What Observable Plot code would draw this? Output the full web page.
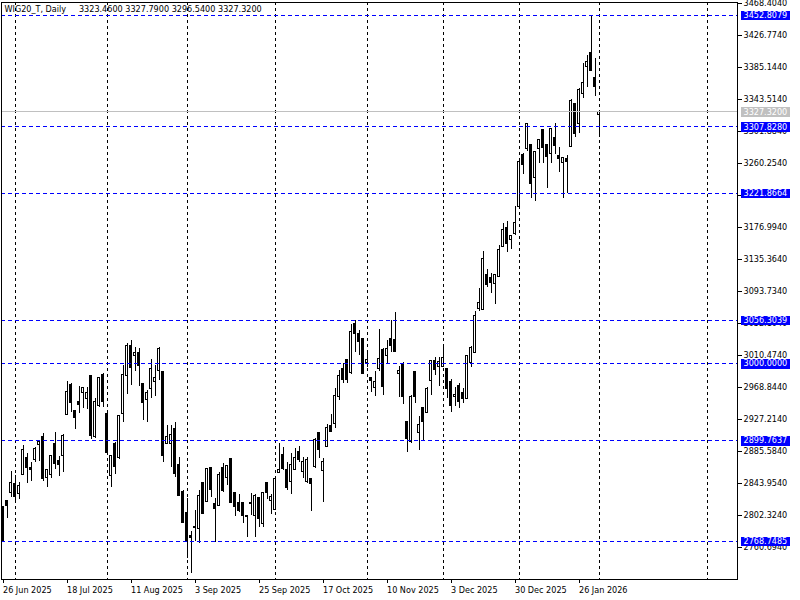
<!DOCTYPE html>
<html><head><meta charset="utf-8">
<script src="https://cdn.jsdelivr.net/npm/d3@7"></script>
<script src="https://cdn.jsdelivr.net/npm/@observablehq/plot@0.6"></script>
<style>body{margin:0;background:#fff}</style>
</head><body><div id="chart"></div>
<script>
const symbol = "WIG20_T, Daily";
const lastOHLC = [3323.46, 3327.79, 3296.54, 3327.32];

const opens = [2813.2,2821.8,2831.4,2843.5,2830.5,2855.2,2876.9,2863.9,2874.7,2894.3,
2905.1,2850.9,2855.2,2894.7,2872.6,2879.9,2933.3,2972.3,2938.1,2950.6,
2961.9,2953.7,2983.2,2904.2,2945.0,2984.5,2934.6,2853.5,2895.6,2876.9,
2934.6,2983.6,3023.1,3009.6,3013.9,2973.6,2952.8,2966.7,2975.8,2990.5,
2988.8,2895.6,2895.6,2915.1,2867.4,2833.5,2805.4,2776.3,2785.8,2784.5,
2844.4,2820.5,2864.3,2817.5,2814.4,2864.3,2851.3,2876.0,2831.8,2818.8,
2818.8,2801.9,2818.8,2801.4,2825.3,2791.5,2844.8,2821.8,2809.7,2857.8,
2880.4,2860.9,2846.5,2861.7,2884.7,2858.7,2846.5,2850.0,2865.2,2909.8,
2860.0,2891.2,2919.4,2921.5,2956.2,2993.1,3004.8,2987.5,3051.6,3037.8,
3032.1,3000.5,2981.4,2968.4,2993.1,3017.0,3010.4,3032.1,3030.0,2986.6,
2999.6,2923.7,2897.7,2988.8,2909.4,2941.9,2935.4,2977.9,3003.9,2995.3,
2996.1,2993.1,2976.6,2956.2,2971.4,2961.9,2954.1,3000.9,3013.9,3071.2,
3069.9,3115.8,3111.5,3103.7,3112.4,3151.4,3176.5,3160.9,3168.7,3203.4,
3270.7,3279.3,3284.5,3241.6,3279.3,3303.2,3284.5,3272.8,3293.2,3269.4,
3260.7,3266.3,3281.5,3337.9,3311.8,3350.9,3385.6,3404.2,3371.7,3323.46];
const highs = [2814.0,2821.8,2860.0,2854.4,2845.7,2893.4,2883.4,2870.8,2891.2,2899.9,
2909.4,2861.7,2880.8,2909.9,2879.1,2907.3,2976.7,2973.6,2938.9,2970.1,
2969.3,2969.3,2984.5,2954.1,2982.3,2987.5,2938.1,2880.4,2897.7,2932.4,
2997.5,3025.7,3029.6,3020.5,3019.1,2974.5,2964.9,3004.8,2997.5,3020.5,
2989.7,2919.4,2919.4,2922.9,2877.3,2834.8,2824.0,2781.5,2808.8,2834.8,
2845.7,2863.0,2865.2,2824.0,2858.7,2869.5,2866.5,2876.5,2832.3,2829.6,
2819.7,2802.3,2830.5,2829.6,2825.8,2832.5,2845.2,2829.6,2850.5,2896.4,
2891.2,2871.7,2882.5,2889.0,2892.1,2878.2,2878.2,2850.5,2902.0,2910.7,
2876.0,2920.7,2933.3,2967.1,2990.9,2999.6,3005.3,3050.8,3056.3039,3043.0,
3032.6,3012.6,2982.3,2989.6,3043.8,3019.1,3030.0,3056.0,3066.0,2996.1,
3001.8,2925.0,2957.8,2989.3,2931.1,2943.2,2968.4,3003.9,3007.4,3008.3,
3023.5,2993.6,2978.8,2968.4,2973.6,2967.9,3010.4,3022.6,3067.7,3097.2,
3146.2,3121.9,3116.7,3115.8,3153.6,3181.8,3185.2,3166.6,3204.3,3262.8,
3272.8,3312.5,3285.0,3275.9,3291.8,3304.0,3285.0,3306.2,3311.8,3281.5,
3268.5,3270.7,3343.0,3338.4,3357.4,3389.9,3400.7,3452.8079,3397.3,3327.79];
const lows = [2767.2,2798.9,2826.2,2818.8,2822.7,2854.4,2844.4,2847.0,2871.7,2873.0,
2847.0,2838.3,2850.0,2861.7,2853.5,2858.7,2932.4,2936.8,2914.6,2934.6,
2942.0,2939.8,2900.8,2902.9,2942.4,2942.4,2882.5,2839.2,2855.7,2874.7,
2923.7,2959.3,2971.4,2990.1,2970.6,2925.9,2922.9,2954.1,2957.1,2978.0,
2871.7,2894.7,2865.2,2852.2,2826.5,2791.5,2746.8,2726.4,2768.5,2766.3,
2803.2,2819.7,2826.2,2766.7,2813.6,2832.7,2841.3,2818.4,2801.4,2806.6,
2792.3,2774.1,2802.3,2774.1,2787.1,2786.3,2823.1,2803.2,2808.8,2856.5,
2860.9,2834.8,2829.6,2860.9,2871.7,2850.0,2844.4,2807.9,2863.0,2876.0,
2818.8,2890.8,2909.8,2915.9,2951.9,2973.6,2973.6,2985.7,3014.8,3010.4,
2986.2,2995.3,2962.7,2957.5,2990.1,2958.4,2999.6,3014.8,3013.9,2956.2,
2946.7,2884.7,2896.4,2948.4,2886.9,2899.9,2934.6,2958.4,2984.4,2970.1,
2995.3,2954.1,2935.9,2944.1,2941.1,2947.6,2953.2,2995.3,3012.6,3068.1,
3069.0,3099.4,3090.7,3076.4,3112.0,3150.5,3144.0,3147.9,3166.6,3202.1,
3245.5,3275.9,3215.1,3211.2,3259.8,3259.8,3228.2,3259.8,3272.0,3249.0,
3215.1,3221.8664,3281.0,3294.5,3298.8,3345.2,3358.7,3380.0,3347.8,3296.54];
const closes = [2767.6,2814.5,2844.8,2826.2,2840.1,2886.9,2864.3,2861.7,2889.1,2897.3,
2850.0,2860.9,2879.9,2869.5,2867.8,2906.4,2963.6,2948.5,2928.9,2946.3,
2968.4,2962.3,2905.5,2950.6,2981.4,2950.2,2883.4,2879.9,2865.2,2932.0,
2985.3,3022.2,2994.4,3013.9,2996.6,2948.9,2962.3,2993.1,2981.4,3019.1,
2879.1,2904.2,2907.3,2856.5,2827.5,2792.4,2768.7485,2772.8,2788.0,2828.3,
2804.5,2862.2,2835.7,2811.0,2855.6,2834.8,2866.1,2818.8,2813.2,2807.9,
2801.4,2800.1,2817.5,2827.5,2798.0,2831.8,2831.4,2826.2,2850.0,2860.9,
2863.0,2837.9,2868.2,2877.3,2873.9,2871.7,2874.7,2843.5,2900.7,2886.9,
2871.7,2916.3,2910.7,2957.5,2984.0,2979.2,2979.2,3040.8,3038.6,3027.8,
2986.6,3004.8,2977.1,2976.6,3006.1,2969.3,3019.1,3022.6,3014.8,2990.9,
2956.2,2902.0,2957.1,2957.1,2920.7,2923.7,2967.1,3003.1,2991.8,3001.8,
3007.4,2967.1,2944.5,2959.7,2949.7,2954.1,3009.6,3020.0,3061.6,3079.0,
3136.2,3102.4,3104.6,3115.4,3147.1,3173.1,3155.7,3165.3,3183.1,3262.0,
3258.5,3311.8,3233.8,3275.0,3291.0,3280.6,3268.5,3305.3,3282.8,3265.9,
3267.6,3262.0,3342.2,3298.8,3356.1,3365.2,3392.5,3380.4,3359.6,3327.32];

const yTicks = [2760.694,2802.324,2843.954,2885.584,2927.214,2968.844,3010.474,3052.104,3093.734,
3135.364,3176.994,3218.624,3260.254,3301.884,3343.514,3385.144,3426.774,3468.404];
const dateTickBars = [0,16,32,48,64,80,96,112,128,144];
const dateTickLabels = ["26 Jun 2025","18 Jul 2025","11 Aug 2025","3 Sep 2025","25 Sep 2025",
"17 Oct 2025","10 Nov 2025","3 Dec 2025","30 Dec 2025","26 Jan 2026"];
const gridBars = [3,26,46,68,91,110,129,149,176];
const levels = [3452.8079,3307.8280,3221.8664,3056.3039,3000.0000,2899.7637,2768.7485];
const bidPrice = 3327.32;

const bars = opens.map((o,k)=>({i:k, open:o, high:highs[k], low:lows[k], close:closes[k]}));
const font = "'DejaVu Sans Condensed','DejaVu Sans',sans-serif";
const title = symbol + "\u00a0\u00a0\u00a0\u00a0 " + lastOHLC.map(v=>v.toFixed(4)).join(" ");
const levelText = levels.map(v=>v.toFixed(4));
const bidText = bidPrice.toFixed(4);

const chart = Plot.plot({
  width:800, height:600, marginLeft:1, marginRight:63, marginTop:2, marginBottom:21,
  style:{fontFamily:font, fontSize:"9px", background:"white", color:"black", shapeRendering:"crispEdges"},
  x:{type:"linear", domain:[-0.375,183.625]},
  y:{domain:[2719.07,3469.71]},
  marks:[
    Plot.ruleX(gridBars,{x:d=>d, stroke:"black", strokeDasharray:"3,3"}),
    Plot.ruleX(bars,{x:"i", y1:"low", y2:"high", stroke:"black"}),
    Plot.rect(bars,{x1:d=>d.i-0.25, x2:d=>d.i+0.25, y1:"open", y2:"close",
      fill:d=>d.close>=d.open?"white":"black", stroke:"black"}),
    Plot.ruleY(levels,{y:d=>d, stroke:"#0000ff", strokeDasharray:"4,3"}),
    Plot.ruleY([bidPrice],{y:d=>d, stroke:"#c0c0c0"}),
    Plot.frame({stroke:"black"}),
    Plot.axisY(yTicks,{anchor:"right", tickSize:4, tickPadding:2, tickFormat:d=>d.toFixed(4), label:null}),
    Plot.axisX(dateTickBars,{anchor:"bottom", tickSize:4, tickPadding:3,
      tickFormat:d=>dateTickLabels[dateTickBars.indexOf(d)], textAnchor:"start", label:null}),
    Plot.text(levels,{y:d=>d, frameAnchor:"right", dx:6, textAnchor:"start", text:d=>d.toFixed(4), fill:"white"}),
    Plot.text([bidPrice],{y:d=>d, frameAnchor:"right", dx:6, textAnchor:"start", text:d=>d.toFixed(4), fill:"white"}),
    Plot.text([title],{text:d=>d, frameAnchor:"top-left", dx:3, dy:3, lineAnchor:"top", textAnchor:"start", fill:"black"})
  ]
});
document.getElementById("chart").appendChild(chart);

// coloured background boxes behind the price-level labels (placed with the label's own transform)
chart.querySelectorAll("text").forEach(t=>{
  const s = t.textContent;
  let color = null;
  if (levelText.includes(s)) color = "#0000ff";
  else if (s === bidText) color = "#c0c0c0";
  if (!color) return;
  const bb = t.getBBox();
  const r = document.createElementNS("http://www.w3.org/2000/svg","rect");
  const tr = t.getAttribute("transform");
  if (tr) r.setAttribute("transform", tr);
  r.setAttribute("x", bb.x-3);
  r.setAttribute("y", -4.5);
  r.setAttribute("width", bb.width+6);
  r.setAttribute("height", 9.5);
  r.setAttribute("fill", color);
  r.setAttribute("stroke", "none");
  t.parentNode.insertBefore(r, t);
});
</script>
</body></html>
